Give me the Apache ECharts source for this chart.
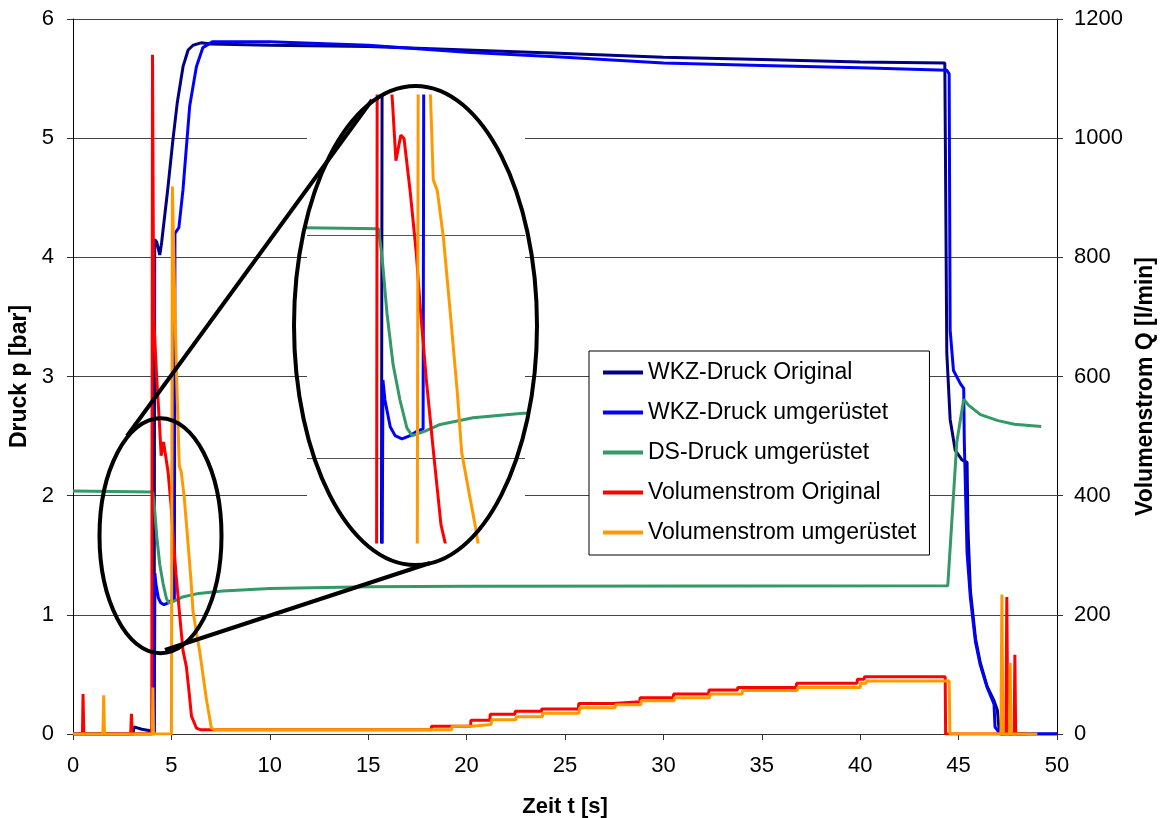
<!DOCTYPE html>
<html>
<head>
<meta charset="utf-8">
<script src="https://cdn.jsdelivr.net/npm/echarts@6/dist/echarts.min.js"></script>
<style>
  html, body { margin: 0; background: #fff; }
  #chart { width: 1166px; height: 818px; }
</style>
</head>
<body>
<div id="chart"></div>
<script>
// Zeit t [s] -> Druck p [bar]
const wkzOriginal = [
  [0, 0], [3.05, 0], [3.1, 0.06], [3.5, 0.04], [3.85, 0.03], [4.12, 0.02], [4.15, 4.15], [4.25, 4.13],
  [4.41, 4.02], [4.5, 4.12], [4.8, 4.55], [5.08, 4.99], [5.3, 5.3], [5.59, 5.6], [5.85, 5.74], [6.1, 5.78],
  [6.5, 5.8], [7, 5.79], [10, 5.78], [15, 5.77], [20, 5.74], [25, 5.71], [30, 5.68], [35, 5.66], [40, 5.64],
  [44.3, 5.63], [44.4, 3.2], [44.57, 2.64], [44.83, 2.38], [45.17, 2.3], [45.43, 2.28], [45.48, 1.7],
  [45.6, 1.2], [45.86, 0.8], [46.1, 0.6], [46.45, 0.4], [46.8, 0.28], [46.97, 0.2], [47.05, 0.05], [47.15, 0], [50, 0]
]
const wkzUmgeruestet = [
  [0, 0], [4.13, 0], [4.16, 1.35], [4.21, 1.26], [4.34, 1.14], [4.46, 1.1], [4.63, 1.085], [4.83, 1.1],
  [5.0, 1.12], [5.15, 1.13], [5.18, 4.2], [5.38, 4.25], [5.59, 4.57], [5.93, 5.27], [6.27, 5.6], [6.6, 5.76],
  [7.1, 5.81], [10, 5.81], [15, 5.78], [20, 5.72], [25, 5.68], [30, 5.63], [35, 5.61], [40, 5.59], [44.4, 5.57],
  [44.52, 5.54], [44.57, 3.39], [44.74, 3.05], [45.09, 2.94], [45.26, 2.9], [45.29, 2.45], [45.43, 1.52],
  [45.6, 1.14], [45.86, 0.77], [46.1, 0.58], [46.45, 0.39], [46.8, 0.25], [46.85, 0.06], [47.1, 0], [50, 0]
]
const dsUmgeruestet = [
  [0, 2.04], [2, 2.035], [4.05, 2.03], [4.14, 1.9], [4.26, 1.65], [4.41, 1.42], [4.58, 1.26], [4.75, 1.135],
  [4.88, 1.1], [5.2, 1.12], [5.57, 1.15], [6.38, 1.18], [7.61, 1.2], [10, 1.22], [15, 1.235], [20, 1.24],
  [44.45, 1.244], [44.49, 1.26], [44.91, 2.45], [45.26, 2.81], [45.5, 2.76], [46.11, 2.68], [47, 2.63],
  [47.83, 2.6], [49.2, 2.58]
]
// Zeit t [s] -> Volumenstrom Q [l/min]
const qOriginal = [
  [0, 0], [0.48, 0], [0.51, 67], [0.55, 0], [2.93, 0], [2.97, 34], [3.01, 0], [4.0, 0], [4.04, 1140],
  [4.1, 700], [4.25, 600], [4.4, 517], [4.48, 467], [4.6, 490], [4.68, 487], [4.83, 440], [4.98, 385],
  [5.08, 335], [5.23, 270], [5.42, 200], [5.59, 140], [5.76, 113], [5.9, 70], [6.02, 30], [6.27, 10], [6.5, 7],
  [18.2, 7], [18.22, 13], [20.2, 13], [20.22, 23], [21.18, 23], [21.2, 33], [22.45, 33], [22.47, 38],
  [23.8, 38], [23.82, 42], [25.68, 42], [25.7, 51], [27.45, 51], [27.47, 54], [28.8, 54], [28.82, 61],
  [30.5, 61], [30.52, 67], [32.3, 67], [32.32, 74], [33.76, 74], [33.78, 78], [36.75, 78], [36.77, 85],
  [39.84, 85], [39.86, 92], [40.2, 92], [40.22, 96], [44.32, 96], [44.34, 0], [47.4, 0], [47.45, 230],
  [47.5, 0], [47.82, 0], [47.86, 133], [47.9, 0], [48.5, 0]
]
const qUmgeruestet = [
  [0, 0], [1.52, 0], [1.56, 65], [1.6, 0], [4.03, 0], [4.06, 78], [4.09, 0], [5.0, 0], [5.05, 919],
  [5.2, 680], [5.3, 560], [5.4, 450], [5.5, 440], [5.65, 398], [5.82, 330], [5.99, 260], [6.1, 205],
  [6.3, 165], [6.44, 138], [6.78, 58], [7.03, 10], [7.2, 7], [19.24, 7], [19.26, 13], [20.25, 13],
  [20.27, 16], [21.25, 16], [21.27, 24], [22.5, 24], [22.52, 29], [23.85, 29], [23.87, 35], [25.72, 35],
  [25.74, 44], [27.55, 44], [27.57, 49], [28.85, 49], [28.87, 56], [30.55, 56], [30.57, 61], [32.35, 61],
  [32.37, 67], [34.0, 67], [34.02, 73], [36.8, 73], [36.82, 78], [40.0, 78], [40.02, 85], [40.3, 85],
  [40.32, 89], [44.52, 89], [44.56, 0], [47.15, 0], [47.2, 234], [47.25, 0], [47.58, 0], [47.62, 119],
  [47.66, 0], [49, 0]
]
// range of the magnified detail (t, p)
const zoomT = [2.29, 7.66]
const zoomP = [0.622, 2.626]

const font = 'Liberation Sans'
const lines = [
  { name: 'WKZ-Druck Original', data: wkzOriginal, color: '#000080', q: false },
  { name: 'WKZ-Druck umgerüstet', data: wkzUmgeruestet, color: '#0000ff', q: false },
  { name: 'DS-Druck umgerüstet', data: dsUmgeruestet, color: '#339966', q: false },
  { name: 'Volumenstrom Original', data: qOriginal, color: '#ff0000', q: true },
  { name: 'Volumenstrom umgerüstet', data: qUmgeruestet, color: '#ff9900', q: true }
]

const makeSeries = (inset) => lines.map(l => ({
  type: 'line',
  name: l.name,
  data: l.data,
  xAxisIndex: inset ? 1 : 0,
  yAxisIndex: inset ? (l.q ? 3 : 2) : (l.q ? 1 : 0),
  symbol: 'none',
  showSymbol: false,
  lineStyle: { color: l.color, width: 3 },
  itemStyle: { color: l.color },
  z: inset ? 6 : 2,
  silent: true
}))

const axisText = { fontFamily: font, fontSize: 22, color: '#000' }
const nameText = { fontFamily: font, fontSize: 22, fontWeight: 'bold', color: '#000' }
const plain = v => String(v)

const chart = echarts.init(document.getElementById('chart'))
chart.setOption({
  animation: false,
  backgroundColor: '#fff',
  grid: [
    { left: 73, right: 109, top: 19, bottom: 84, outerBoundsMode: 'none', containLabel: false },
    { left: 307, top: 96, width: 218, height: 446, show: true, backgroundColor: '#fff', borderWidth: 0, z: 5, outerBoundsMode: 'none' }
  ],
  legend: {
    data: lines.map(l => l.name),
    orient: 'vertical',
    left: 589,
    top: 351,
    icon: 'rect',
    itemWidth: 40,
    itemHeight: 4,
    itemGap: 17,
    padding: [10, 13, 11, 14],
    backgroundColor: '#fff',
    borderColor: '#000',
    borderWidth: 1,
    textStyle: { fontFamily: font, fontSize: 23, color: '#000' },
    z: 20
  },
  xAxis: [
    {
      type: 'value', gridIndex: 0, min: 0, max: 50, interval: 5,
      name: 'Zeit t [s]', nameLocation: 'middle', nameGap: 62, nameTextStyle: nameText,
      axisLine: { show: true, lineStyle: { color: '#333', width: 1 } },
      axisTick: { show: true, length: 6, lineStyle: { color: '#333' } },
      axisLabel: Object.assign({ margin: 21, formatter: plain }, axisText),
      splitLine: { show: false }
    },
    { type: 'value', gridIndex: 1, min: zoomT[0], max: zoomT[1], show: false }
  ],
  yAxis: [
    {
      type: 'value', gridIndex: 0, position: 'left', min: 0, max: 6, interval: 1,
      name: 'Druck p [bar]', nameLocation: 'middle', nameGap: 27,
      nameTextStyle: Object.assign({}, nameText, { fontSize: 23 }),
      axisLine: { show: true, lineStyle: { color: '#000', width: 1 } },
      axisTick: { show: true, length: 6, lineStyle: { color: '#333' } },
      axisLabel: Object.assign({ margin: 19, formatter: plain }, axisText),
      splitLine: { show: true, lineStyle: { color: '#444', width: 1 } }
    },
    {
      type: 'value', gridIndex: 0, position: 'right', min: 0, max: 1200, interval: 200,
      name: 'Volumenstrom Q [l/min]', nameLocation: 'middle', nameGap: 70,
      nameTextStyle: Object.assign({}, nameText, { fontSize: 23, padding: [0, 20, 0, 0] }),
      axisLine: { show: true, lineStyle: { color: '#000', width: 1 } },
      axisTick: { show: true, length: 6, lineStyle: { color: '#333' } },
      axisLabel: Object.assign({ margin: 17, formatter: plain }, axisText),
      splitLine: { show: false }
    },
    { type: 'value', gridIndex: 1, min: zoomP[0], max: zoomP[1], show: false },
    { type: 'value', gridIndex: 1, min: zoomP[0] * 200, max: zoomP[1] * 200, show: false }
  ],
  series: makeSeries(false).concat(makeSeries(true), [{
    // grid lines of the magnified detail
    type: 'line', xAxisIndex: 1, yAxisIndex: 2, data: [], z: 5.5, silent: true,
    markLine: {
      symbol: 'none', silent: true, animation: false, label: { show: false },
      lineStyle: { color: '#555', width: 1, type: 'solid' },
      data: [{ yAxis: 1 }, { yAxis: 2 }]
    }
  }]),
  graphic: [
    { type: 'ellipse', z: 10, silent: true, shape: { cx: 415.5, cy: 325.5, rx: 121.5, ry: 239.5 }, style: { fill: 'none', stroke: '#000', lineWidth: 4 } },
    { type: 'ellipse', z: 10, silent: true, shape: { cx: 160.5, cy: 535.8, rx: 61, ry: 117.5 }, style: { fill: 'none', stroke: '#000', lineWidth: 4 } },
    { type: 'line', z: 10, silent: true, shape: { x1: 127, y1: 436, x2: 372, y2: 100 }, style: { stroke: '#000', lineWidth: 4 } },
    { type: 'line', z: 10, silent: true, shape: { x1: 165, y1: 650, x2: 430, y2: 563 }, style: { stroke: '#000', lineWidth: 4 } }
  ]
})
window.addEventListener('resize', () => chart.resize())
</script>
</body>
</html>
